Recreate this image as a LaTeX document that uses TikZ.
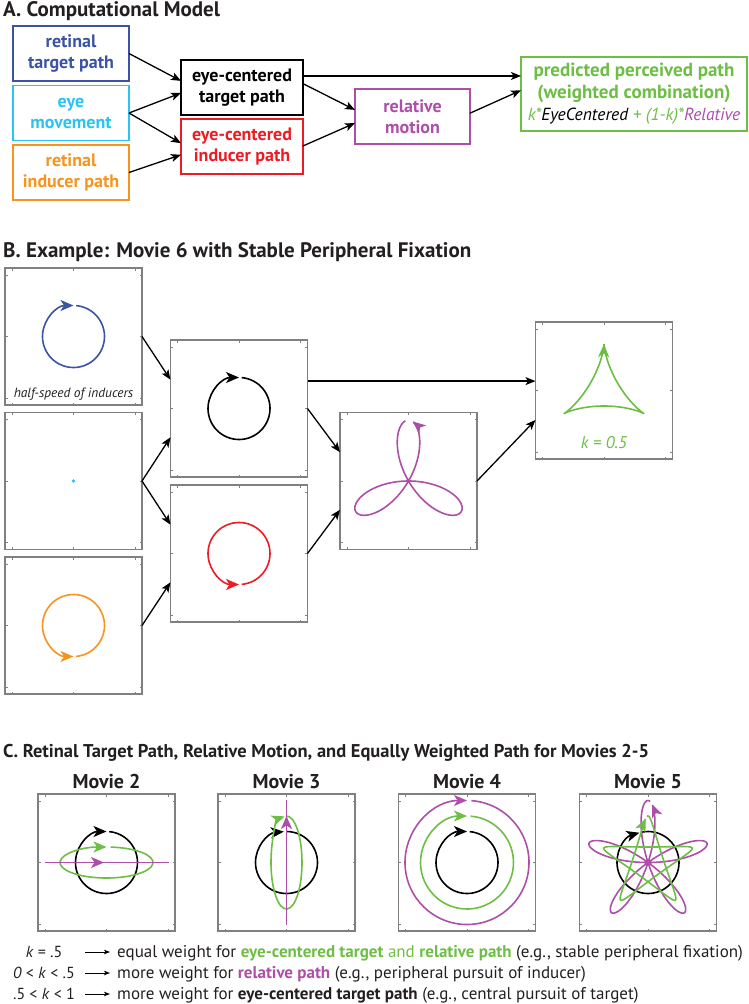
\documentclass[tikz,border=0pt]{standalone}
\usepackage{fontspec}
\setmainfont{PT Sans}
\usetikzlibrary{arrows.meta,calc}
\definecolor{cblue}{HTML}{3A53A4}
\definecolor{ccyan}{HTML}{2CC3F2}
\definecolor{corange}{HTML}{F7941D}
\definecolor{cred}{HTML}{ED1C24}
\definecolor{cpurple}{HTML}{AD4FA8}
\definecolor{cgreen}{HTML}{6DBE45}
\definecolor{cgray}{HTML}{808080}
\definecolor{ctext}{HTML}{231F20}
\newcommand\frameticks[1]{%
  \foreach \f in {0.05,0.5,0.95}{%
    \draw[tickmark] ($(#1.north west)!\f!(#1.north east)$) -- ++(0,2.5);
    \draw[tickmark] ($(#1.south west)!\f!(#1.south east)$) -- ++(0,-2.5);
    \draw[tickmark] ($(#1.north west)!\f!(#1.south west)$) -- ++(2.5,0);
    \draw[tickmark] ($(#1.north east)!\f!(#1.south east)$) -- ++(-2.5,0);
  }}
\begin{document}
\begin{tikzpicture}[x=1pt,y=-1pt,
  flowbox/.style={draw, line width=1.4pt, inner sep=0pt, outer sep=0pt, align=center,
    font=\bfseries\fontsize{18}{21}\selectfont},
  panel/.style={draw=cgray, line width=1.1pt, minimum width=137pt, minimum height=137pt,
    inner sep=0pt, outer sep=0pt},
  conn/.style={line width=1.3pt, -{Stealth[length=10pt,width=8pt,inset=2.5pt]}},
  pathline/.style={line width=1.6pt},
  curvetip/.style={-{Stealth[length=13pt,width=11pt,inset=3.5pt]}},
  tickmark/.style={cgray, line width=0.7pt},
  ptitle/.style={anchor=base west, font=\bfseries\fontsize{21}{23}\selectfont, text=ctext, inner sep=0pt},
  mtitle/.style={anchor=base, font=\bfseries\fontsize{20}{22}\selectfont, text=ctext, inner sep=0pt},
  legtext/.style={anchor=base west, font=\fontsize{17}{19}\selectfont, text=ctext, inner sep=0pt},
  legk/.style={anchor=base, font=\fontsize{16}{18}\selectfont, text=ctext, inner sep=0pt},
  legarrow/.style={line width=0.9pt, -{Stealth[length=6pt,width=4.5pt,inset=1.5pt]}}
]
\useasboundingbox (0,0) rectangle (749,1004);

% ---------------- A ----------------
\node[ptitle] (tA) at (3,16) {A. Computational Model};
\node[flowbox, draw=cblue, text=cblue, minimum width=116pt, minimum height=55pt] (rt) at (71,53.5) {retinal\\target path};
\node[flowbox, draw=ccyan, text=ccyan, minimum width=116pt, minimum height=55pt] (em) at (71,113) {eye\\movement};
\node[flowbox, draw=corange, text=corange, minimum width=116pt, minimum height=55pt] (ri) at (71,172.5) {retinal\\inducer path};
\node[flowbox, draw=black, text=black, minimum width=122pt, minimum height=55pt] (ec) at (242,87.5) {eye-centered\\target path};
\node[flowbox, draw=cred, text=cred, minimum width=122pt, minimum height=55pt] (ei) at (242,146.5) {eye-centered\\inducer path};
\node[flowbox, draw=cpurple, text=cpurple, minimum width=115pt, minimum height=55pt] (rm) at (412.5,116.5) {relative\\motion};
\node[flowbox, draw=cgreen, text=cgreen, minimum width=226pt, minimum height=74pt,
  font=\bfseries\fontsize{19}{22}\selectfont] (pp) at (634,94)
  {predicted perceived path\\(weighted combination)\\{\normalfont\itshape\fontsize{17.5}{22}\selectfont k*\textcolor{black}{EyeCentered} + (1-k)*\textcolor{cpurple}{Relative}}};

\draw[conn] (rt.east) -- ($(ec.north west)!0.38!(ec.south west)$);
\draw[conn] (em.east) -- ($(ec.north west)!0.6!(ec.south west)$);
\draw[conn] (em.east) -- ($(ei.north west)!0.44!(ei.south west)$);
\draw[conn] (ri.east) -- ($(ei.north west)!0.65!(ei.south west)$);
\coordinate (ecA) at ($(ec.north east)!0.29!(ec.south east)$);
\draw[conn] (ecA) -- (ecA -| pp.west);
\draw[conn] ($(ec.north east)!0.43!(ec.south east)$) -- ($(rm.north west)!0.38!(rm.south west)$);
\draw[conn] ($(ei.north east)!0.49!(ei.south east)$) -- ($(rm.north west)!0.62!(rm.south west)$);
\draw[conn] ($(rm.north east)!0.44!(rm.south east)$) -- ($(pp.north west)!0.45!(pp.south west)$);

% ---------------- B ----------------
\node[ptitle] (tB) at (3,257) {B. Example: Movie 6 with Stable Peripheral Fixation};
\node[panel] (p1) at (73.5,336.5) {};
\node[panel] (p2) at (73.5,481) {};
\node[panel] (p3) at (73.5,625.5) {};
\node[panel] (p4) at (239,408.5) {};
\node[panel] (p5) at (239,553.5) {};
\node[panel] (p6) at (408.5,481) {};
\node[panel] (p7) at (604,390.5) {};
\foreach \p in {p1,p2,p3,p4,p5,p6,p7} {\frameticks{\p}}

\node[font=\itshape\fontsize{13.4}{14}\selectfont, text=ctext, inner sep=0pt] (hs) at ($(p1.south)+(0,-11)$) {half-speed of inducers};
\node[font=\itshape\fontsize{17}{18}\selectfont, text=cgreen, inner sep=0pt] (kh) at ($(p7.south)+(0,-16)$) {k = 0.5};

\begin{scope}[shift={(p1.center)}, yscale=-1]
  \draw[cblue, pathline, curvetip] (85:31) arc[start angle=85, end angle=-270, radius=31];
\end{scope}
\fill[ccyan] (p2.center) circle (1.9pt);
\begin{scope}[shift={(p3.center)}, yscale=-1]
  \draw[corange, pathline, curvetip] (-85:31) arc[start angle=-85, end angle=270, radius=31];
\end{scope}
\begin{scope}[shift={(p4.center)}, yscale=-1]
  \draw[black, pathline, curvetip] (85:31) arc[start angle=85, end angle=-270, radius=31];
\end{scope}
\begin{scope}[shift={(p5.center)}, yscale=-1]
  \draw[cred, pathline, curvetip] (-85:31) arc[start angle=-85, end angle=270, radius=31];
\end{scope}
\begin{scope}[shift={(p6.center)}, yscale=-1]
  \draw[cpurple, pathline, curvetip] plot[domain=-354:-8, samples=240]
    ({30.5*(cos(90-(\x))-cos(2*(\x)-90))},{30.5*(sin(90-(\x))-sin(2*(\x)-90))});
\end{scope}
\begin{scope}[shift={(p7.center)}, yscale=-1]
  \draw[cgreen, pathline, curvetip] plot[domain=-358:-3, samples=240]
    ({31*(cos(90-(\x))-0.5*cos(2*(\x)-90))},{31*(sin(90-(\x))-0.5*sin(2*(\x)-90))});
\end{scope}

\draw[conn] (p1.east) -- ($(p4.north west)!0.29!(p4.south west)$);
\draw[conn] (p2.east) -- ($(p4.north west)!0.71!(p4.south west)$);
\draw[conn] (p2.east) -- ($(p5.north west)!0.29!(p5.south west)$);
\draw[conn] (p3.east) -- ($(p5.north west)!0.71!(p5.south west)$);
\coordinate (p4a) at ($(p4.north east)!0.3!(p4.south east)$);
\draw[conn] (p4a) -- (p4a -| p7.west);
\draw[conn] (p4.east) -- ($(p6.north west)!0.29!(p6.south west)$);
\draw[conn] (p5.east) -- ($(p6.north west)!0.71!(p6.south west)$);
\draw[conn] (p6.east) -- ($(p7.north west)!0.715!(p7.south west)$);

% ---------------- C ----------------
\node[ptitle, font=\bfseries\fontsize{18.5}{20}\selectfont] (tC) at (3,757) {C. Retinal Target Path, Relative Motion, and Equally Weighted Path for Movies 2-5};
\node[panel] (m2) at (106.5,862.5) {};
\node[panel] (m3) at (286.5,862.5) {};
\node[panel] (m4) at (467,862.5) {};
\node[panel] (m5) at (648,862.5) {};
\foreach \p in {m2,m3,m4,m5} {\frameticks{\p}}
\node[mtitle] (mt2) at ($(m2.north)+(0,-6)$) {Movie 2};
\node[mtitle] (mt3) at ($(m3.north)+(0,-6)$) {Movie 3};
\node[mtitle] (mt4) at ($(m4.north)+(0,-6)$) {Movie 4};
\node[mtitle] (mt5) at ($(m5.north)+(0,-6)$) {Movie 5};

\begin{scope}[shift={(m2.center)}, yscale=-1]
  \draw[black, pathline, curvetip] (85:31) arc[start angle=85, end angle=-270, radius=31];
  \draw[cgreen, pathline, curvetip] ({46.5*cos(85)},{15.5*sin(85)}) arc[start angle=85, end angle=-270, x radius=46.5, y radius=15.5];
  \draw[cpurple, pathline] (-62,0) -- (62,0);
  \draw[cpurple, pathline, curvetip] (-20,0) -- (-2.5,0);
\end{scope}
\begin{scope}[shift={(m3.center)}, yscale=-1]
  \draw[black, pathline, curvetip] (90:31) arc[start angle=90, end angle=-265, radius=31];
  \draw[cgreen, pathline, curvetip] ({15.5*cos(92)},{46.5*sin(92)}) arc[start angle=92, end angle=-263, x radius=15.5, y radius=46.5];
  \draw[cpurple, pathline] (0,62.5) -- (0,-62.5);
  \draw[cpurple, pathline, curvetip] (0,28) -- (0,46.5);
\end{scope}
\begin{scope}[shift={(m4.center)}, yscale=-1]
  \draw[black, pathline, curvetip] (85:31) arc[start angle=85, end angle=-270, radius=31];
  \draw[cgreen, pathline, curvetip] (85.5:46.5) arc[start angle=85.5, end angle=-270, radius=46.5];
  \draw[cpurple, pathline, curvetip] (86:62) arc[start angle=86, end angle=-270, radius=62];
\end{scope}
\begin{scope}[shift={(m5.center)}, yscale=-1]
  \draw[black, pathline, curvetip] (101:31) arc[start angle=101, end angle=-254, radius=31];
  \draw[cpurple, pathline, curvetip] plot[domain=-364:-8, samples=400]
    ({31*(cos(90-2*(\x))+cos(90+3*(\x)))},{31*(sin(90-2*(\x))+sin(90+3*(\x)))});
  \draw[cgreen, pathline, curvetip] plot[domain=-364:-8, samples=400]
    ({31*(cos(90-2*(\x))+0.5*cos(90+3*(\x)))},{31*(sin(90-2*(\x))+0.5*sin(90+3*(\x)))});
\end{scope}

% legend
\node[legk] (k1) at (44,957) {\textit{k} = .5};
\node[legk] (k2) at (44,978) {\textit{0} < \textit{k} < .5};
\node[legk] (k3) at (44,999) {.5 < \textit{k} < 1};
\coordinate (a1s) at (85,952); \coordinate (a1e) at (110,952);
\coordinate (a2s) at (85,973); \coordinate (a2e) at (110,973);
\coordinate (a3s) at (85,994); \coordinate (a3e) at (110,994);
\draw[legarrow] (a1s) -- (a1e);
\draw[legarrow] (a2s) -- (a2e);
\draw[legarrow] (a3s) -- (a3e);
\node[legtext] (l1) at (117,957) {equal weight for \textcolor{cgreen}{\textbf{eye-centered target} and \textbf{relative path}} (e.g., stable peripheral fixation)};
\node[legtext] (l2) at (117,978) {more weight for \textcolor{cpurple}{\textbf{relative path}} (e.g., peripheral pursuit of inducer)};
\node[legtext] (l3) at (117,999) {more weight for \textbf{eye-centered target path} (e.g., central pursuit of target)};
\end{tikzpicture}
\end{document}
